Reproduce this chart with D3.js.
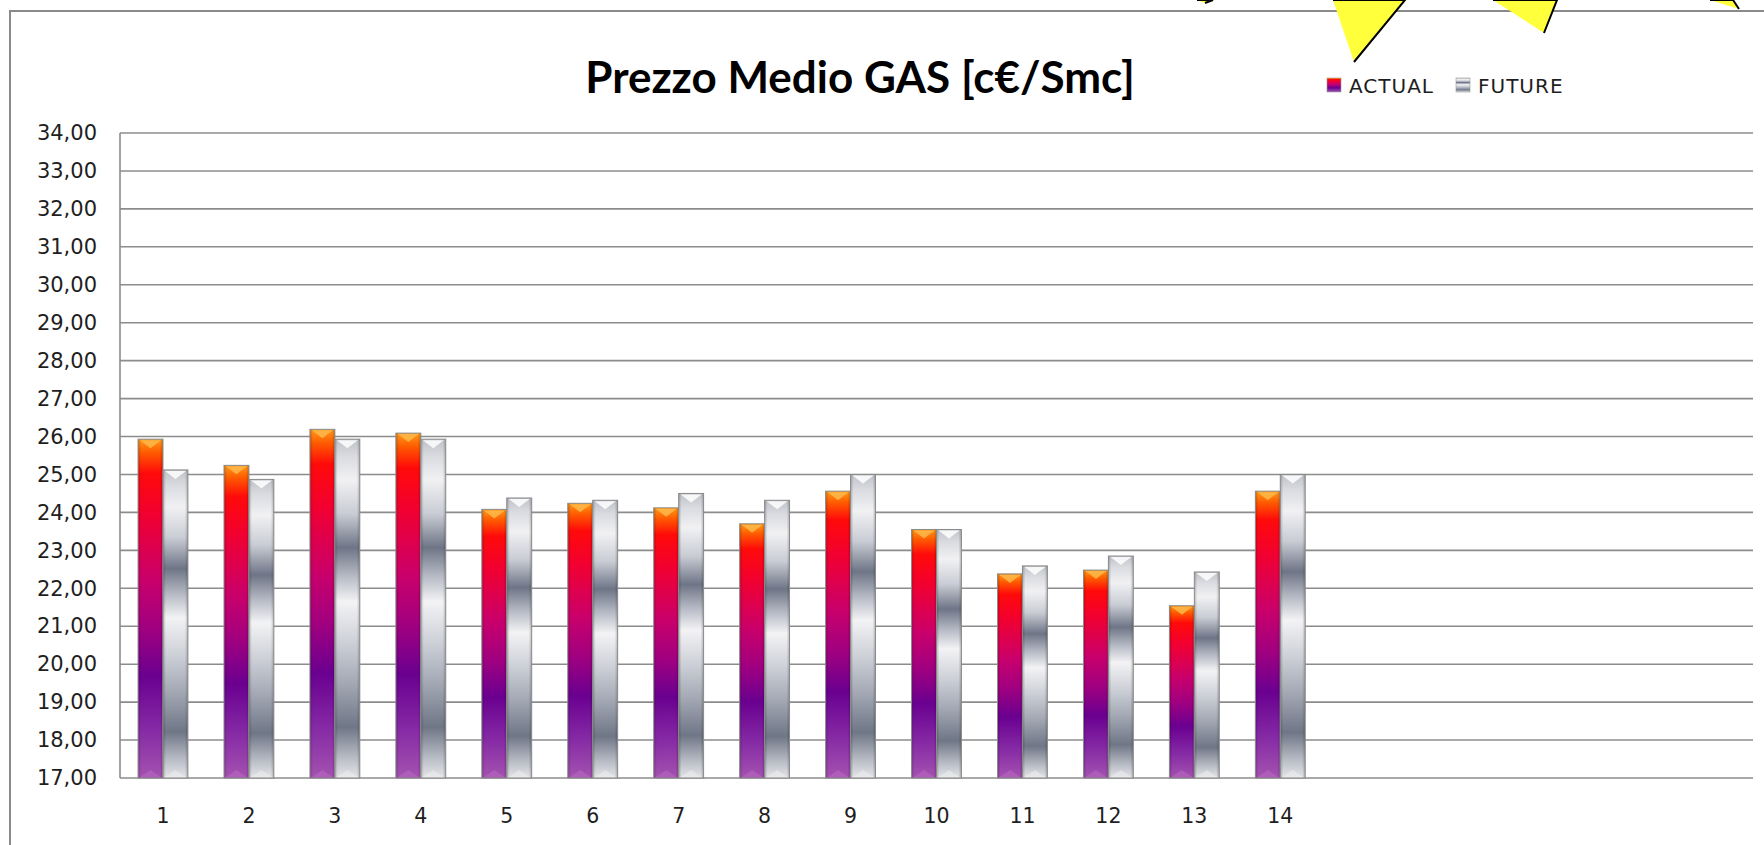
<!DOCTYPE html>
<html>
<head>
<meta charset="utf-8">
<script src="https://cdn.jsdelivr.net/npm/d3@7"></script>
<style>
  body { margin: 0; background: #fff; }
  svg { display: block; }
</style>
</head>
<body>
<svg id="chart" width="1764" height="845"></svg>
<script>
// data
const categories = [1, 2, 3, 4, 5, 6, 7, 8, 9, 10, 11, 12, 13, 14, 15, 16, 17, 18, 19];
const tickLabels = ["1", "2", "3", "4", "5", "6", "7", "8", "9", "10", "11", "12", "13", "14", "", "", "", "", ""];
const actual = [25.93, 25.24, 26.19, 26.09, 24.08, 24.24, 24.12, 23.70, 24.56, 23.55, 22.38, 22.48, 21.54, 24.56];
const future = [25.12, 24.87, 25.93, 25.93, 24.38, 24.32, 24.50, 24.32, 25.00, 23.55, 22.59, 22.85, 22.43, 25.00];
const seriesNames = ["ACTUAL", "FUTURE"];
const yTicks = [17, 18, 19, 20, 21, 22, 23, 24, 25, 26, 27, 28, 29, 30, 31, 32, 33, 34];

const svg = d3.select("#chart");
const margin = {left: 120, right: 1753, top: 133, bottom: 778};

const x = d3.scaleBand()
    .domain(categories)
    .range([margin.left, margin.right])
    .padding(0);

const x1 = d3.scaleBand()
    .domain(seriesNames)
    .range([x.bandwidth() * 0.21, x.bandwidth() * 0.79]);

const y = d3.scaleLinear()
    .domain([17, 34])
    .range([margin.bottom, margin.top]);

const it = d3.formatLocale({decimal: ",", thousands: ".", grouping: [3], currency: ["", "€"]});
const fmt = it.format(".2f");

// gradients
const defs = svg.append("defs");
function grad(id, stops) {
    const g = defs.append("linearGradient")
        .attr("id", id)
        .attr("x1", 0).attr("y1", 0).attr("x2", 0).attr("y2", 1);
    g.selectAll("stop").data(stops).join("stop")
        .attr("offset", d => d[0])
        .attr("stop-color", d => d[1]);
}
grad("gActual", [
    [0, "#ff9a1a"], [0.04, "#ff5a00"], [0.10, "#ff0a0a"], [0.22, "#f20030"],
    [0.42, "#c8006c"], [0.56, "#a00080"], [0.70, "#6a0090"], [0.85, "#8428a4"], [1, "#a452b0"]
]);
grad("gFuture", [
    [0, "#bfc2c9"], [0.05, "#d9dbe0"], [0.12, "#f1f1f3"], [0.22, "#c9ccd4"],
    [0.32, "#6e7586"], [0.40, "#b3b7c2"], [0.48, "#f3f3f5"], [0.60, "#cdd0d7"],
    [0.72, "#a3a8b4"], [0.85, "#6f7686"], [0.94, "#b8bcc5"], [1, "#e4e5e8"]
]);
const hg = defs.append("linearGradient").attr("id", "gEdge")
    .attr("x1", 0).attr("y1", 0).attr("x2", 1).attr("y2", 0);
hg.selectAll("stop").data([
    [0, "rgba(0,0,0,0.22)"], [0.12, "rgba(0,0,0,0)"], [0.88, "rgba(0,0,0,0)"], [1, "rgba(0,0,0,0.22)"]
]).join("stop").attr("offset", d => d[0]).attr("stop-color", d => d[1]);

// outer chart frame
svg.append("path")
    .attr("d", "M10,845 V11 H1764")
    .attr("fill", "none")
    .attr("stroke", "#8a8a8a")
    .attr("stroke-width", 2);

// gridlines
svg.append("g")
    .selectAll("line")
    .data(yTicks)
    .join("line")
    .attr("x1", margin.left)
    .attr("x2", margin.right)
    .attr("y1", d => y(d))
    .attr("y2", d => y(d))
    .attr("stroke", "#8c8c8c")
    .attr("stroke-width", 1.6);

svg.append("line")
    .attr("x1", margin.left).attr("x2", margin.left)
    .attr("y1", margin.top).attr("y2", margin.bottom)
    .attr("stroke", "#8c8c8c")
    .attr("stroke-width", 1.6);

// y axis labels
const yAxis = svg.append("g")
    .attr("transform", `translate(${margin.left},0)`)
    .call(d3.axisLeft(y).tickValues(yTicks).tickFormat(fmt).tickSize(0).tickPadding(23));
yAxis.select(".domain").remove();
yAxis.selectAll("text")
    .attr("font-family", "DejaVu Sans")
    .attr("font-size", 21)
    .attr("fill", "#1e1e1e");

// x axis labels
const xAxis = svg.append("g")
    .attr("transform", `translate(0,${margin.bottom})`)
    .call(d3.axisBottom(x).tickFormat((d, i) => tickLabels[i]).tickSize(0).tickPadding(30));
xAxis.select(".domain").remove();
xAxis.selectAll("text")
    .attr("font-family", "DejaVu Sans")
    .attr("font-size", 20.5)
    .attr("fill", "#1e1e1e");

// bars
const rows = actual.map((v, i) => ({cat: categories[i], values: [
    {key: "ACTUAL", value: v},
    {key: "FUTURE", value: future[i]}
]}));

const groups = svg.append("g")
    .selectAll("g")
    .data(rows)
    .join("g")
    .attr("transform", d => `translate(${x(d.cat)},0)`);

const bars = groups.selectAll("g")
    .data(d => d.values)
    .join("g");

bars.append("rect")
    .attr("x", d => x1(d.key))
    .attr("y", d => y(d.value))
    .attr("width", x1.bandwidth())
    .attr("height", d => y(17) - y(d.value))
    .attr("fill", d => d.key === "ACTUAL" ? "url(#gActual)" : "url(#gFuture)");

bars.append("rect")
    .attr("x", d => x1(d.key))
    .attr("y", d => y(d.value))
    .attr("width", x1.bandwidth())
    .attr("height", d => y(17) - y(d.value))
    .attr("fill", "url(#gEdge)")
    .attr("stroke", "#8a8a8a")
    .attr("stroke-width", 1);

// bevel cap on top of each bar
bars.append("path")
    .attr("d", d => {
        const x0 = x1(d.key), w = x1.bandwidth(), t = y(d.value);
        return `M${x0 + 2},${t + 1} H${x0 + w - 2} L${x0 + w / 2},${t + 9} Z`;
    })
    .attr("fill", d => d.key === "ACTUAL" ? "#ffb84a" : "#ffffff")
    .attr("opacity", 0.85);

// bottom bevel
bars.append("path")
    .attr("d", d => {
        const x0 = x1(d.key), w = x1.bandwidth(), b = y(17);
        return `M${x0 + 2},${b - 1} H${x0 + w - 2} L${x0 + w / 2},${b - 8} Z`;
    })
    .attr("fill", d => d.key === "ACTUAL" ? "#b868c0" : "#ececee")
    .attr("opacity", 0.6);

// title
svg.append("text")
    .attr("x", 860)
    .attr("y", 93)
    .attr("text-anchor", "middle")
    .attr("font-family", "Lato")
    .attr("font-weight", 700)
    .attr("font-size", 44)
    .attr("fill", "#000")
    .text("Prezzo Medio GAS [c€/Smc]");

// legend
const legendX = [1327, 1456];
const legend = svg.append("g")
    .selectAll("g")
    .data(seriesNames)
    .join("g")
    .attr("transform", (d, i) => `translate(${legendX[i]},78)`);

legend.append("rect")
    .attr("width", 14)
    .attr("height", 14)
    .attr("fill", d => d === "ACTUAL" ? "url(#gActual)" : "url(#gFuture)")
    .attr("stroke", "#999")
    .attr("stroke-width", 0.6);

legend.append("text")
    .attr("x", 22)
    .attr("y", 15)
    .attr("font-family", "DejaVu Sans")
    .attr("font-size", 20)
    .attr("letter-spacing", 1)
    .attr("fill", "#1e1e1e")
    .text(d => d);

// yellow star points poking in from above
const spikes = [
    [[1197, 0], [1213, 0], [1205, 3]],
    [[1333, 0], [1405, 0], [1354, 62]],
    [[1493, 0], [1557, 0], [1544, 33]],
    [[1710, 0], [1733, 0], [1739, 9]]
];
svg.append("g")
    .selectAll("path")
    .data(spikes)
    .join("path")
    .attr("d", d => d3.line()(d))
    .attr("fill", "#ffff3c")
    .attr("stroke", "#000")
    .attr("stroke-width", 2)
    .attr("stroke-linejoin", "miter");
</script>
</body>
</html>
